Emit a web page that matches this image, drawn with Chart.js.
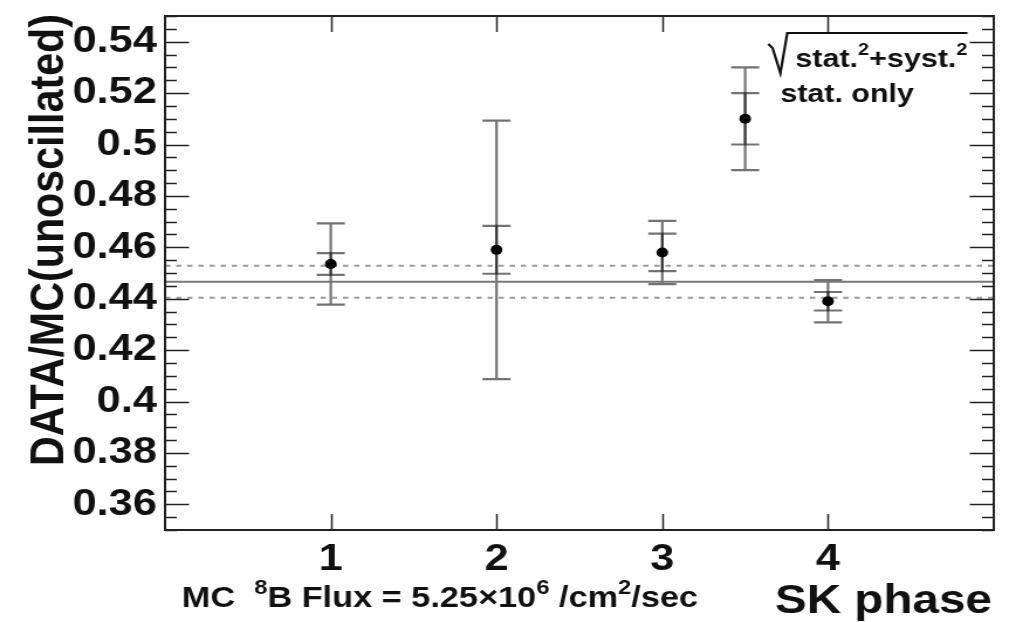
<!DOCTYPE html>
<html>
<head>
<meta charset="utf-8">
<script src="https://cdn.jsdelivr.net/npm/chart.js@4.4.1/dist/chart.umd.min.js"></script>
<style>
  html, body { margin: 0; padding: 0; background: #fff; overflow: hidden; }
  /* the original plot is a bit wider than its fonts, so stretch the canvas sideways */
  #wrap { width: 868px; height: 622px; transform: scaleX(1.1705); transform-origin: 0 0; }
</style>
</head>
<body>
<div id="wrap"><canvas id="chart"></canvas></div>
<script>
// SK phase results
const phases = [1, 2, 3, 4];
const ratio = [0.4535, 0.459, 0.458, 0.439];
const statErr = [0.0042, 0.0093, 0.0073, 0.0036];
const totalErr = [0.0158, 0.0503, 0.0123, 0.0082];

// combined value (solid) and its band (dashed)
const combined = 0.4466;
const combinedErr = 0.0062;

// legend key point drawn inside the frame
const keyX = [3.5];
const keyY = [0.51];
const keyStat = [0.01];
const keyTotal = [0.02];

const xRange = [0, 5];
const yRange = [0.35, 0.55];
const xTicks = [1, 2, 3, 4];
const yTicks = [0.36, 0.38, 0.40, 0.42, 0.44, 0.46, 0.48, 0.50, 0.52, 0.54];

const FONT = '"Liberation Sans", Arial, Helvetica, sans-serif';
const INK = '#111';
const BAR = 'rgba(0,0,0,0.55)';

function errBar(ctx, xs, ys, x, y, e, half) {
    const px = xs.getPixelForValue(x);
    const top = ys.getPixelForValue(y + e);
    const bot = ys.getPixelForValue(y - e);
    ctx.beginPath();
    ctx.moveTo(px, top); ctx.lineTo(px, bot);
    ctx.moveTo(px - half, top); ctx.lineTo(px + half, top);
    ctx.moveTo(px - half, bot); ctx.lineTo(px + half, bot);
    ctx.stroke();
}

// draws text pieces (some as superscripts) starting at x, squeezed to width if given
function richText(ctx, parts, x, y, size, supSize, raise, width) {
    let w = 0;
    parts.forEach(([t, sup]) => {
        ctx.font = `bold ${sup ? supSize : size}px ${FONT}`;
        w += ctx.measureText(t).width;
    });
    ctx.save();
    ctx.translate(x, y);
    if (width) ctx.scale(width / w, 1);
    let cx = 0;
    parts.forEach(([t, sup]) => {
        ctx.font = `bold ${sup ? supSize : size}px ${FONT}`;
        ctx.fillText(t, cx, sup ? -raise : 0);
        cx += ctx.measureText(t).width;
    });
    ctx.restore();
}

const decorations = {
    id: 'decorations',
    beforeDatasetsDraw(chart) {
        const { ctx, scales: { x, y } } = chart;
        ctx.save();
        ctx.strokeStyle = BAR;
        ctx.lineWidth = 2.2;
        phases.forEach((p, i) => {
            errBar(ctx, x, y, p, ratio[i], totalErr[i], 12);
            errBar(ctx, x, y, p, ratio[i], statErr[i], 12);
        });
        keyX.forEach((p, i) => {
            errBar(ctx, x, y, p, keyY[i], keyTotal[i], 12);
            errBar(ctx, x, y, p, keyY[i], keyStat[i], 12);
        });
        ctx.restore();
    },
    afterDraw(chart) {
        const { ctx, chartArea: a, scales: { x, y } } = chart;
        ctx.save();

        // frame
        ctx.strokeStyle = '#222';
        ctx.lineWidth = 2;
        ctx.strokeRect(a.left, a.top, a.right - a.left, a.bottom - a.top);

        // inward ticks, left and right
        ctx.lineWidth = 1.5;
        ctx.beginPath();
        for (let k = 0; k <= 40; k++) {
            const v = yRange[0] + k * 0.005;
            const py = Math.round(y.getPixelForValue(v)) + 0.5;
            const major = k % 4 === 2;
            const len = major ? 20.5 : 10;
            ctx.moveTo(a.left, py); ctx.lineTo(a.left + len, py);
            ctx.moveTo(a.right, py); ctx.lineTo(a.right - len, py);
        }
        xTicks.forEach(t => {
            const px = Math.round(x.getPixelForValue(t)) + 0.5;
            ctx.moveTo(px, a.bottom); ctx.lineTo(px, a.bottom - 16);
            ctx.moveTo(px, a.top); ctx.lineTo(px, a.top + 16);
        });
        ctx.stroke();

        ctx.fillStyle = INK;
        ctx.textAlign = 'left';
        ctx.textBaseline = 'alphabetic';

        // y title
        ctx.save();
        ctx.translate(53.8, 240);
        ctx.rotate(-Math.PI / 2);
        ctx.font = `bold 41px ${FONT}`;
        const title = 'DATA/MC(unoscillated)';
        const tw = ctx.measureText(title).width;
        ctx.scale(452 / tw, 1);
        ctx.textAlign = 'center';
        ctx.fillText(title, 0, 0);
        ctx.restore();

        // x title and flux note
        richText(ctx, [['SK phase', false]], 662, 613, 40, 0, 0, 185.5);
        richText(ctx, [['MC  ', false], ['8', true], ['B Flux = 5.25\u00d710', false], ['6', true],
            [' /cm', false], ['2', true], ['/sec', false]], 155.3, 607, 29, 20, 13, 441);

        // legend text
        richText(ctx, [['stat.', false], ['2', true], ['+syst.', false], ['2', true]], 679.5, 66.7, 26, 17, 12, 147);
        richText(ctx, [['stat. only', false]], 666.7, 101.7, 26, 0, 0, 114);

        // square root sign over the first legend line
        ctx.strokeStyle = INK;
        ctx.lineWidth = 2.2;
        ctx.beginPath();
        ctx.moveTo(656.4, 44);
        ctx.lineTo(660, 48);
        ctx.lineTo(666.7, 73);
        ctx.lineTo(672.6, 33);
        ctx.lineTo(826.5, 33);
        ctx.stroke();

        ctx.restore();
    }
};

const tickFont = { family: FONT, size: 37, weight: 'bold' };

new Chart(document.getElementById('chart'), {
    type: 'scatter',
    data: {
        datasets: [
            {
                data: phases.map((p, i) => ({ x: p, y: ratio[i] })),
                pointRadius: 5,
                pointBackgroundColor: '#000',
                pointBorderWidth: 0,
                order: 0
            },
            {
                data: keyX.map((p, i) => ({ x: p, y: keyY[i] })),
                pointRadius: 5,
                pointBackgroundColor: '#000',
                pointBorderWidth: 0,
                order: 0
            },
            {
                type: 'line',
                data: xRange.map(v => ({ x: v, y: combined })),
                borderColor: '#777',
                borderWidth: 2,
                pointRadius: 0,
                order: 1
            },
            {
                type: 'line',
                data: xRange.map(v => ({ x: v, y: combined + combinedErr })),
                borderColor: '#999',
                borderWidth: 2,
                borderDash: [4.5, 5],
                pointRadius: 0,
                order: 1
            },
            {
                type: 'line',
                data: xRange.map(v => ({ x: v, y: combined - combinedErr })),
                borderColor: '#999',
                borderWidth: 2,
                borderDash: [4.5, 5],
                pointRadius: 0,
                order: 1
            }
        ]
    },
    options: {
        responsive: true,
        maintainAspectRatio: false,
        animation: false,
        layout: { padding: { left: 0, top: 16, right: 19, bottom: 0 } },
        plugins: { legend: { display: false }, tooltip: { enabled: false } },
        scales: {
            x: {
                type: 'linear',
                min: xRange[0],
                max: xRange[1],
                grid: { display: false, drawTicks: false },
                border: { display: false },
                afterBuildTicks: s => { s.ticks = xTicks.map(v => ({ value: v })); },
                afterFit: s => { s.height = 92; s.paddingLeft = 0; s.paddingRight = 0; },
                ticks: { font: tickFont, color: INK, padding: 8, maxRotation: 0, callback: v => String(v) }
            },
            y: {
                type: 'linear',
                min: yRange[0],
                max: yRange[1],
                grid: { display: false, drawTicks: false },
                border: { display: false },
                afterBuildTicks: s => { s.ticks = yTicks.map(v => ({ value: v })); },
                afterFit: s => { s.width = 141; s.paddingTop = 0; s.paddingBottom = 0; },
                ticks: { font: tickFont, color: INK, padding: 7, callback: v => String(+v.toFixed(3)) }
            }
        }
    },
    plugins: [decorations]
});
</script>
</body>
</html>
